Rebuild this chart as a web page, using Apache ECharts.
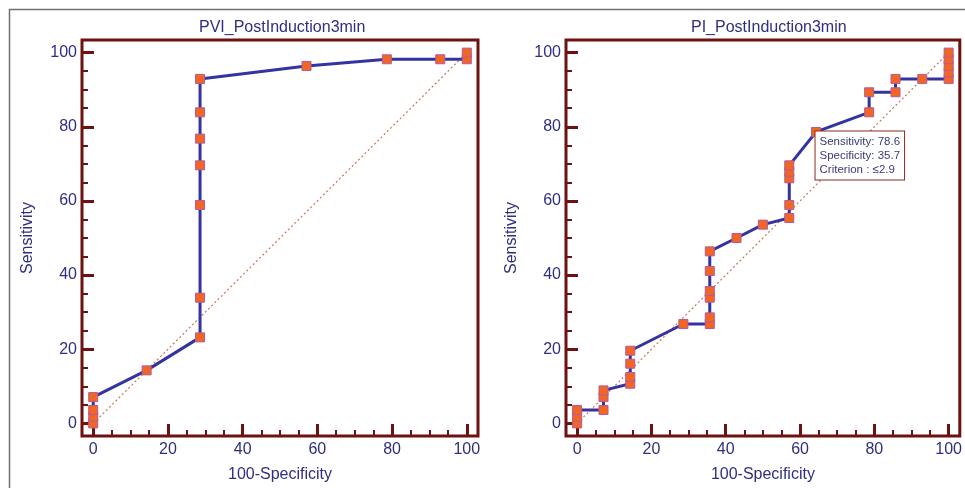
<!DOCTYPE html>
<html>
<head>
<meta charset="utf-8">
<script src="https://cdn.jsdelivr.net/npm/echarts@6/dist/echarts.min.js"></script>
<style>
  html, body { margin: 0; padding: 0; background: #fff; }
  #chart { width: 965px; height: 488px; }
</style>
</head>
<body>
<div id="chart"></div>
<script>
'use strict';

// ROC points, 100-Specificity (x) vs Sensitivity (y)
var pviX = [0, 0, 0, 0, 14.3, 28.6, 28.6, 28.6, 28.6, 28.6, 28.6, 28.6, 57.1, 78.6, 92.9, 100, 100];
var pviY = [0, 1.8, 3.6, 7.1, 14.3, 23.2, 33.9, 58.9, 69.6, 76.8, 83.9, 92.9, 96.4, 98.2, 98.2, 98.2, 100];

var piX = [0, 0, 0, 7.1, 7.1, 7.1, 14.3, 14.3, 14.3, 14.3, 28.6, 35.7, 35.7, 35.7, 35.7, 35.7, 35.7,
  42.9, 50, 57.1, 57.1, 57.1, 57.1, 57.1, 64.3, 78.6, 78.6, 85.7, 85.7, 92.9, 100, 100, 100, 100, 100];
var piY = [0, 1.8, 3.6, 3.6, 7.1, 8.9, 10.7, 12.5, 16.1, 19.6, 26.8, 26.8, 28.6, 33.9, 35.7, 41.1, 46.4,
  50, 53.6, 55.4, 58.9, 66.1, 67.9, 69.6, 78.6, 83.9, 89.3, 89.3, 92.9, 92.9, 92.9, 94.6, 96.4, 98.2, 100];

var titles = ['PVI_PostInduction3min', 'PI_PostInduction3min'];
var majorTicks = [0, 20, 40, 60, 80, 100];
var minorTicks = [5, 10, 15, 25, 30, 35, 45, 50, 55, 65, 70, 75, 85, 90, 95];
var diagonal = [[0, 0], [100, 100]];

// optimal criterion on the PI curve
var criterion = { x: 64.3, sens: 78.6, spec: 35.7, text: '≤2.9' };

var navy = '#2e2e82';
var maroon = '#6e1111';
var font = 'Liberation Sans, Arial, sans-serif';

function pairs(xs, ys) {
  return xs.map(function (x, i) { return [x, ys[i]]; });
}

function axes(kind, grid) {
  var isX = kind === 'x';
  var lim = isX ? { min: -3, max: 103 } : { min: -3.4, max: 103.4 };
  var base = {
    type: 'value', gridIndex: grid, min: lim.min, max: lim.max,
    position: isX ? 'bottom' : 'left',
    axisLine: { show: false, onZero: false },
    splitLine: { show: false }
  };
  var major = Object.assign({}, base, {
    name: isX ? '100-Specificity' : 'Sensitivity',
    nameLocation: 'middle',
    nameGap: isX ? 31 : 46,
    nameTextStyle: { color: navy, fontSize: 16, fontFamily: font },
    axisTick: { show: true, inside: true, length: 12, customValues: majorTicks,
      lineStyle: { color: maroon, width: 3 } },
    axisLabel: { show: true, customValues: majorTicks, margin: isX ? 6 : 5,
      color: navy, fontSize: 16, fontFamily: font }
  });
  var minor = Object.assign({}, base, {
    axisTick: { show: true, inside: true, length: 6, customValues: minorTicks,
      lineStyle: { color: maroon, width: 2 } },
    axisLabel: { show: false }
  });
  return [major, minor];
}

function rocSeries(data, xi, yi) {
  return {
    type: 'line', xAxisIndex: xi, yAxisIndex: yi, data: data,
    symbol: 'rect', symbolSize: 9, z: 3,
    lineStyle: { color: '#3434a0', width: 3 },
    itemStyle: { color: '#f26522', borderColor: '#b55a9c', borderWidth: 1 },
    animation: false
  };
}

function diagSeries(xi, yi) {
  return {
    type: 'line', xAxisIndex: xi, yAxisIndex: yi, data: diagonal,
    symbol: 'none', z: 2, silent: true,
    lineStyle: { color: '#c8765a', width: 1.2, type: [2, 2.5] },
    animation: false
  };
}

var piData = pairs(piX, piY).map(function (p) {
  if (p[0] === criterion.x && p[1] === criterion.sens) {
    return {
      value: p,
      label: {
        show: true, position: [4.5, 4.5],
        formatter: 'Sensitivity: ' + criterion.sens + '\nSpecificity: ' + criterion.spec +
          '\nCriterion : ' + criterion.text,
        color: '#3a3a7a', fontSize: 11.5, lineHeight: 14, fontFamily: font,
        backgroundColor: '#fff', borderColor: '#8a2a1a', borderWidth: 1,
        padding: [3, 4, 3, 4], align: 'left', verticalAlign: 'top'
      }
    };
  }
  return p;
});

var xs = axes('x', 0).concat(axes('x', 1));
var ys = axes('y', 0).concat(axes('y', 1));

var myChart = echarts.init(document.getElementById('chart'), null, { renderer: 'canvas' });
var option = {
  backgroundColor: '#fff',
  animation: false,
  title: [
    { text: titles[0], left: 194, top: 15,
      textStyle: { color: navy, fontSize: 16, fontWeight: 'normal', fontFamily: font } },
    { text: titles[1], left: 686, top: 15,
      textStyle: { color: navy, fontSize: 16, fontWeight: 'normal', fontFamily: font } }
  ],
  graphic: [{
    type: 'rect', silent: true, z: -1,
    shape: { x: 9.5, y: 9.5, width: 1000, height: 600 },
    style: { fill: null, stroke: '#707070', lineWidth: 1.5 }
  }],
  grid: [
    { left: 82, top: 40, width: 396, height: 397, show: true,
      borderColor: maroon, borderWidth: 3, backgroundColor: 'transparent' },
    { left: 566, top: 40, width: 396, height: 397, show: true,
      borderColor: maroon, borderWidth: 3, backgroundColor: 'transparent' }
  ],
  xAxis: xs,
  yAxis: ys,
  series: [
    diagSeries(0, 0),
    rocSeries(pairs(pviX, pviY), 0, 0),
    diagSeries(2, 2),
    rocSeries(piData, 2, 2)
  ]
};
myChart.setOption(option);
</script>
</body>
</html>
